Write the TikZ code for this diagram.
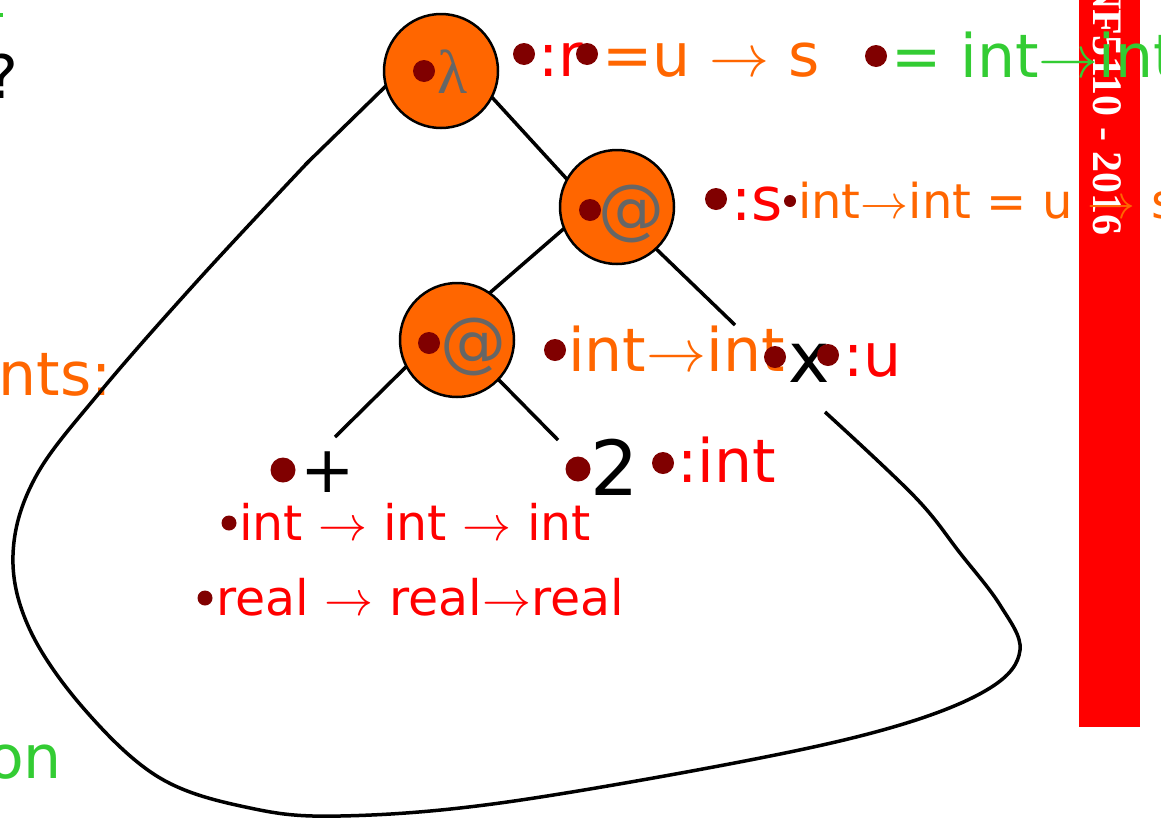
\RequirePackage{fix-cm}
\documentclass[tikz,border=0pt]{standalone}
\usepackage{fontspec}
\setmainfont{DejaVu Sans}
\newfontfamily\barfont{Liberation Serif}
\definecolor{orng}{HTML}{FF6600}
\definecolor{rd}{HTML}{FF0000}
\definecolor{grn}{HTML}{33CC33}
\definecolor{dotc}{HTML}{800000}
\definecolor{gry}{HTML}{666666}
\newcommand{\ar}{\ensuremath{\rightarrow}}
\tikzset{
  treenode/.style={circle, draw=black, line width=2.5pt, fill=orng, minimum size=114pt, inner sep=0pt},
  bigdot/.style={circle, fill=dotc, inner sep=0pt, minimum size=22pt},
  hugedot/.style={circle, fill=dotc, inner sep=0pt, minimum size=25pt},
  smalldot/.style={circle, fill=dotc, inner sep=0pt, minimum size=15pt},
  tinydot/.style={circle, fill=dotc, inner sep=0pt, minimum size=12pt},
  edgeline/.style={line width=3.5pt, black},
  lbl/.style={inner sep=0pt, anchor=base west},
  lble/.style={inner sep=0pt, anchor=base east},
  fs/.style={font=\fontsize{#1}{#1}\selectfont},
}
\begin{document}
\begin{tikzpicture}[x=1pt,y=-1pt]
\useasboundingbox (0,0) rectangle (1161,817);
\clip (0,0) rectangle (1161,817);
% red bar
\fill[rd] (1079,0) rectangle (1140,727);
\node[inner sep=0pt, anchor=base east, rotate=-90, text=white, font=\barfont\bfseries\fontsize{42}{42}\selectfont] (bartxt) at (1093,236) {INF5110 - 2016};
% side fragments
\fill[grn] (0,13) rectangle (3,17);
\node[lble, fs=60] (q) at (19,98) {?};
\node[lble, fs=60, text=orng] (nts) at (112,395) {nts:};
\node[lble, fs=60, text=grn] (on) at (62,778) {on};
% edge endpoints
\coordinate (e1a) at (478,82);  \coordinate (e1b) at (575,188);
\coordinate (e2a) at (575,219); \coordinate (e2b) at (485,297);
\coordinate (e3a) at (650,243); \coordinate (xend) at (735,325);
\coordinate (e4a) at (415,358); \coordinate (plusend) at (335,437);
\coordinate (e5a) at (495,376); \coordinate (twoend) at (558,440);
\coordinate (e6a) at (390,82);  \coordinate (e6b) at (305,165);
\coordinate (cs) at (309,161);  \coordinate (ce) at (825,412);
\draw[edgeline] (e1a) -- (e1b);
\draw[edgeline] (e2a) -- (e2b);
\draw[edgeline] (e3a) -- (xend);
\draw[edgeline] (e4a) -- (plusend);
\draw[edgeline] (e5a) -- (twoend);
\draw[edgeline] (e6a) -- (e6b);
\draw[edgeline] plot[smooth, tension=0.6] coordinates {(cs) (200,278) (100,392) (35,478) (13,555) (30,630) (85,710) (160,778) (250,808) (340,816) (500,803) (750,760) (900,725) (990,688) (1020,650) (1000,605) (960,553) (915,497) (ce)};
% tree nodes
\node[treenode] (lam) at (441,71) {};
\node[treenode] (app1) at (617,207) {};
\node[treenode] (app2) at (457,340) {};
\node[lbl, text=gry, font=\barfont\fontsize{62}{62}\selectfont] (lamtxt) at (437,93) {λ};
\node[lbl, fs=66, text=gry] (at1) at (598,231) {@};
\node[lbl, fs=66, text=gry] (at2) at (440,364) {@};
\node[bigdot] (d0) at (424,71) {};
\node[bigdot] (d1) at (590,210) {};
\node[bigdot] (d2) at (429,343) {};
% top labels
\node[lbl, fs=60, text=rd] (tr) at (538,76) {:r};
\node[lbl, fs=60, text=orng] (tu) at (602,76) {=u \ar{} s};
\node[lbl, fs=60, text=grn] (tg) at (891,77) {= int\ar{}int};
\node[bigdot] (d3) at (524,54) {};
\node[bigdot] (d4) at (587,54) {};
\node[bigdot] (d5) at (876,56) {};
% s labels
\node[lbl, fs=60, text=rd] (ts) at (731,220) {:s};
\node[lbl, fs=48, text=orng] (tsi) at (798,218) {int\ar{}int = u \ar{} s};
\node[bigdot] (d6) at (716,199) {};
\node[tinydot] (d7) at (790,201) {};
% middle labels
\node[lbl, fs=60, text=orng] (tmid) at (568,371) {int\ar{}int};
\node[lbl, fs=70, text=black] (tx) at (788,382) {x};
\node[lbl, fs=60, text=rd] (tu2) at (843,376) {:u};
\node[bigdot] (d8) at (555,350) {};
\node[bigdot] (d9) at (775,357) {};
\node[bigdot] (d10) at (828,355) {};
% leaves
\node[lbl, fs=65, text=black] (tplus) at (300,492) {+};
\node[lbl, fs=76, text=black] (ttwo) at (590,495) {2};
\node[lbl, fs=60, text=rd] (tint) at (677,482) {:int};
\node[hugedot] (d11) at (283,470) {};
\node[hugedot] (d12) at (578,469) {};
\node[bigdot] (d13) at (663,463) {};
% type lists
\node[lbl, fs=49, text=rd] (tl1) at (239,540) {int \ar{} int \ar{} int};
\node[lbl, fs=49, text=rd] (tl2) at (216,615) {real \ar{} real\ar{}real};
\node[smalldot] (d14) at (229,523) {};
\node[smalldot] (d15) at (205,598) {};
\end{tikzpicture}
\end{document}
